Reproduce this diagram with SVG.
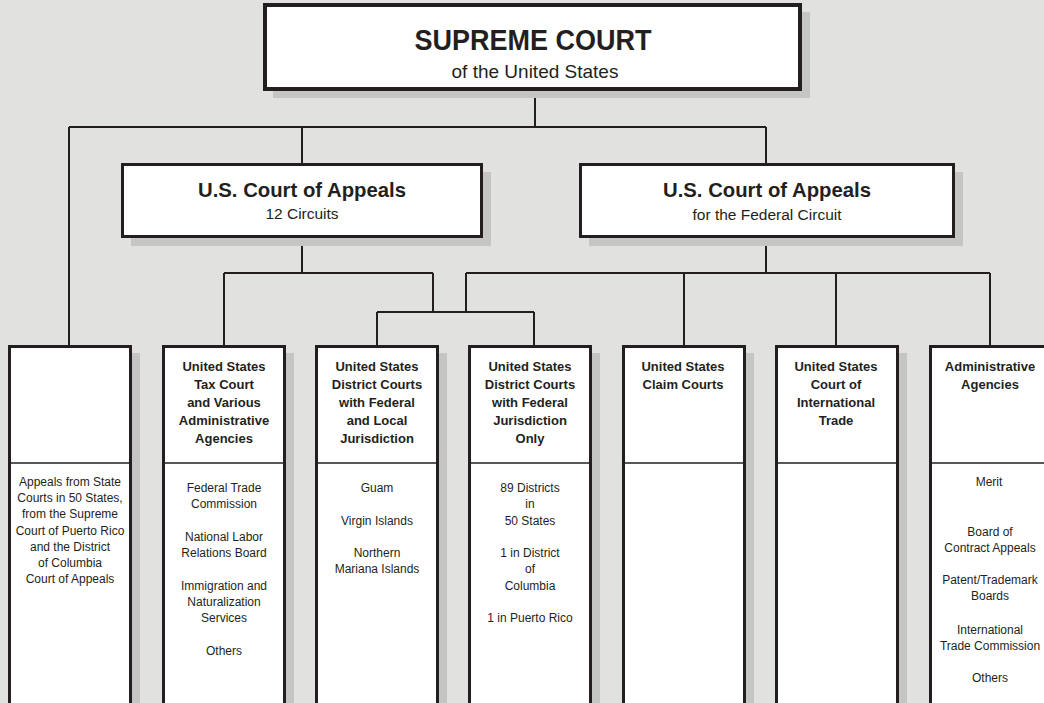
<svg xmlns="http://www.w3.org/2000/svg" width="1044" height="703" viewBox="0 0 1044 703">
<defs>
<style>
.bg{fill:#e1e2df}
.sh{fill:#c5c6c4}
.box{fill:#ffffff;stroke:#231f20;stroke-width:3}
.big{fill:#ffffff;stroke:#231f20;stroke-width:4}
.div{stroke:#231f20;stroke-width:1.5;fill:none}
.con path{stroke:#231f20;stroke-width:2;fill:none}
text{font-family:"Liberation Sans",Arial,Helvetica,sans-serif;fill:#231f20;text-anchor:middle}
.h{font-weight:bold;font-size:13px}
.b{font-size:12px}
.t1{font-weight:bold;font-size:29px}
.t2{font-size:19px}
.a1{font-weight:bold;font-size:21px}
.a2{font-size:15.5px}
</style>
</defs>
<rect class="bg" x="0" y="0" width="1044" height="703"/>

<g id="connectors" class="con">
<path d="M535 91V127"/>
<path d="M69 127H766"/>
<path d="M69 127V345"/>
<path d="M302 127V163"/>
<path d="M766 127V163"/>
<path d="M302 238V273"/>
<path d="M224 273H433"/>
<path d="M224 273V345"/>
<path d="M433 273V312"/>
<path d="M377 312H534"/>
<path d="M377 312V345"/>
<path d="M534 312V345"/>
<path d="M766 238V273"/>
<path d="M466 273H990"/>
<path d="M466 273V312"/>
<path d="M684 273V345"/>
<path d="M836 273V345"/>
<path d="M990 273V345"/>
</g>

<g id="supreme-court">
<rect class="sh" x="273" y="12" width="537" height="86"/>
<rect class="big" x="265" y="5" width="535" height="84"/>
<text class="t1" x="533" y="50" textLength="237" lengthAdjust="spacingAndGlyphs">SUPREME COURT</text>
<text class="t2" x="535" y="78">of the United States</text>
</g>

<g id="appeals-12">
<rect class="sh" x="131" y="172" width="360" height="74"/>
<rect class="box" x="122.5" y="164.5" width="359" height="72"/>
<text class="a1" x="302" y="197" textLength="208" lengthAdjust="spacingAndGlyphs">U.S. Court of Appeals</text>
<text class="a2" x="302" y="219">12 Circuits</text>
</g>

<g id="appeals-federal">
<rect class="sh" x="589" y="172" width="374" height="74"/>
<rect class="box" x="580.5" y="164.5" width="373" height="72"/>
<text class="a1" x="767" y="197" textLength="208" lengthAdjust="spacingAndGlyphs">U.S. Court of Appeals</text>
<text class="a2" x="767" y="220">for the Federal Circuit</text>
</g>

<g id="state-courts">
<rect class="sh" x="17" y="353" width="123" height="360"/>
<rect class="box" x="9.5" y="346.5" width="121" height="370"/>
<path class="div" d="M9.5 463H130.5"/>
<text class="b" x="70" y="486">Appeals from State</text>
<text class="b" x="70" y="502">Courts in 50 States,</text>
<text class="b" x="70" y="518">from the Supreme</text>
<text class="b" x="70" y="535">Court of Puerto Rico</text>
<text class="b" x="70" y="551">and the District</text>
<text class="b" x="70" y="567">of Columbia</text>
<text class="b" x="70" y="583">Court of Appeals</text>
</g>

<g id="tax-court">
<rect class="sh" x="171" y="353" width="123" height="360"/>
<rect class="box" x="163.5" y="346.5" width="121" height="370"/>
<path class="div" d="M163.5 463H284.5"/>
<text class="h" x="224" y="371">United States</text>
<text class="h" x="224" y="389">Tax Court</text>
<text class="h" x="224" y="407">and Various</text>
<text class="h" x="224" y="425">Administrative</text>
<text class="h" x="224" y="443">Agencies</text>
<text class="b" x="224" y="492">Federal Trade</text>
<text class="b" x="224" y="508">Commission</text>
<text class="b" x="224" y="541">National Labor</text>
<text class="b" x="224" y="557">Relations Board</text>
<text class="b" x="224" y="590">Immigration and</text>
<text class="b" x="224" y="606">Naturalization</text>
<text class="b" x="224" y="622">Services</text>
<text class="b" x="224" y="655">Others</text>
</g>

<g id="district-federal-local">
<rect class="sh" x="324" y="353" width="123" height="360"/>
<rect class="box" x="316.5" y="346.5" width="121" height="370"/>
<path class="div" d="M316.5 463H437.5"/>
<text class="h" x="377" y="371">United States</text>
<text class="h" x="377" y="389">District Courts</text>
<text class="h" x="377" y="407">with Federal</text>
<text class="h" x="377" y="425">and Local</text>
<text class="h" x="377" y="443">Jurisdiction</text>
<text class="b" x="377" y="492">Guam</text>
<text class="b" x="377" y="525">Virgin Islands</text>
<text class="b" x="377" y="557">Northern</text>
<text class="b" x="377" y="573">Mariana Islands</text>
</g>

<g id="district-federal-only">
<rect class="sh" x="477" y="353" width="123" height="360"/>
<rect class="box" x="469.5" y="346.5" width="121" height="370"/>
<path class="div" d="M469.5 463H590.5"/>
<text class="h" x="530" y="371">United States</text>
<text class="h" x="530" y="389">District Courts</text>
<text class="h" x="530" y="407">with Federal</text>
<text class="h" x="530" y="425">Jurisdiction</text>
<text class="h" x="530" y="443">Only</text>
<text class="b" x="530" y="492">89 Districts</text>
<text class="b" x="530" y="508">in</text>
<text class="b" x="530" y="525">50 States</text>
<text class="b" x="530" y="557">1 in District</text>
<text class="b" x="530" y="573">of</text>
<text class="b" x="530" y="590">Columbia</text>
<text class="b" x="530" y="622">1 in Puerto Rico</text>
</g>

<g id="claim-courts">
<rect class="sh" x="631" y="353" width="123" height="360"/>
<rect class="box" x="623.5" y="346.5" width="121" height="370"/>
<path class="div" d="M623.5 463H744.5"/>
<text class="h" x="683" y="371">United States</text>
<text class="h" x="683" y="389">Claim Courts</text>
</g>

<g id="international-trade">
<rect class="sh" x="784" y="353" width="123" height="360"/>
<rect class="box" x="776.5" y="346.5" width="121" height="370"/>
<path class="div" d="M776.5 463H897.5"/>
<text class="h" x="836" y="371">United States</text>
<text class="h" x="836" y="389">Court of</text>
<text class="h" x="836" y="407">International</text>
<text class="h" x="836" y="425">Trade</text>
</g>

<g id="administrative-agencies">
<rect class="sh" x="938" y="353" width="123" height="360"/>
<rect class="box" x="930.5" y="346.5" width="121" height="370"/>
<path class="div" d="M930.5 463H1051.5"/>
<text class="h" x="990" y="371">Administrative</text>
<text class="h" x="990" y="389">Agencies</text>
<text class="b" x="989" y="486">Merit</text>
<text class="b" x="990" y="536">Board of</text>
<text class="b" x="990" y="552">Contract Appeals</text>
<text class="b" x="990" y="584">Patent/Trademark</text>
<text class="b" x="990" y="600">Boards</text>
<text class="b" x="990" y="634">International</text>
<text class="b" x="990" y="650">Trade Commission</text>
<text class="b" x="990" y="682">Others</text>
</g>
</svg>
